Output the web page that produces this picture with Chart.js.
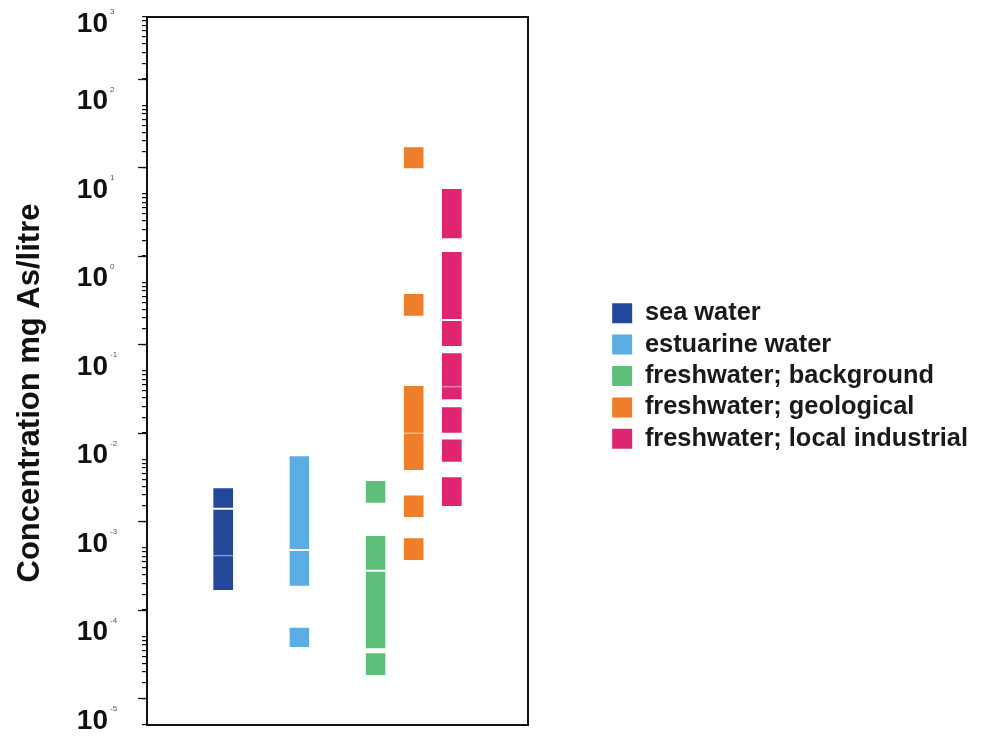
<!DOCTYPE html>
<html>
<head>
<meta charset="utf-8">
<script src="https://cdn.jsdelivr.net/npm/chart.js@4/dist/chart.umd.min.js"></script>
<style>
  html, body { margin: 0; padding: 0; background: #ffffff; }
  #wrap { width: 981px; height: 739px; }
</style>
</head>
<body>
<div id="wrap"><canvas id="chart" width="981" height="739"></canvas></div>
<script>
// Arsenic concentration ranges (mg As/litre) by water type.
// Each range is [low, high]; adjoining ranges are separated by a thin white edge.
const seriesNames = ['sea water', 'estuarine water', 'freshwater; background', 'freshwater; geological', 'freshwater; local industrial'];
const seriesColors = ['#22479b', '#5bade2', '#5ebf78', '#ef7e2b', '#df2471'];
const seriesX = [2, 4, 6, 7, 8];

const seaWater = [[2.77e-3, 4.85e-3], [3.27e-4, 2.77e-3]];
const estuarineWater = [[9.5e-4, 1.12e-2], [3.65e-4, 9.5e-4], [7.4e-5, 1.29e-4]];
const freshBackground = [[3.17e-3, 5.86e-3], [5.52e-4, 1.40e-3], [7.16e-5, 5.52e-4], [3.58e-5, 6.62e-5]];
const freshGeological = [[19.0, 34.6], [0.411, 0.760], [7.41e-3, 6.95e-2], [2.18e-3, 4.02e-3], [7.13e-4, 1.32e-3]];
const freshIndustrial = [[3.08, 11.7], [0.377, 2.27], [0.187, 0.377], [0.0467, 0.163], [0.0196, 0.0399], [9.2e-3, 0.0173], [2.9e-3, 6.46e-3]];

// faint sub-divisions inside a range
const seaWaterFaint = [8.2e-4];
const freshGeologicalFaint = [1.98e-2];
const freshIndustrialFaint = [0.0665];

const seriesRanges = [seaWater, estuarineWater, freshBackground, freshGeological, freshIndustrial];
const seriesFaint = [seaWaterFaint, [], [], freshGeologicalFaint, freshIndustrialFaint];

// log axis: decades 1e-5 .. 1e3, minor ticks at 1..9 x 10^n, long ticks at 2 x 10^n
const decadeExponents = [-5, -4, -3, -2, -1, 0, 1, 2, 3];
const minorMultipliers = [1, 2, 3, 4, 5, 6, 7, 8, 9];
const longTickMultiplier = 2;

const axisTitle = 'Concentration mg As/litre';
const PLOT_RIGHT = 528;
const FONT = '"Liberation Sans", Arial, Helvetica, sans-serif';

const tickValues = [];
decadeExponents.forEach((e, i) => {
  if (i === decadeExponents.length - 1) { tickValues.push(Math.pow(10, e)); return; }
  minorMultipliers.forEach(m => tickValues.push(Number((m * Math.pow(10, e)).toPrecision(3))));
});

const datasets = seriesNames.map((name, i) => ({
  label: name,
  data: seriesRanges[i].map(r => ({ x: seriesX[i], y: r })),
  backgroundColor: seriesColors[i],
  borderColor: '#ffffff',
  borderWidth: { top: 1, bottom: 1, left: 0, right: 0 },
  borderSkipped: false,
  borderRadius: 0,
  inflateAmount: 0,
  barThickness: 20,
  grouped: false,
  faint: seriesFaint[i]
}));

// faint lines, decade labels, long ticks and the rotated axis title
const axisDecor = {
  id: 'axisDecor',
  afterDatasetsDraw(chart) {
    const ctx = chart.ctx;
    const y = chart.scales.y;
    ctx.save();
    chart.data.datasets.forEach((ds, di) => {
      const meta = chart.getDatasetMeta(di);
      const bar = meta.data[0];
      if (!bar) return;
      (ds.faint || []).forEach(v => {
        const py = y.getPixelForValue(v);
        ctx.strokeStyle = 'rgba(255,255,255,0.45)';
        ctx.lineWidth = 1.5;
        ctx.beginPath();
        ctx.moveTo(bar.x - bar.width / 2, py);
        ctx.lineTo(bar.x + bar.width / 2, py);
        ctx.stroke();
      });
    });
    ctx.restore();
  },
  afterDraw(chart) {
    const ctx = chart.ctx;
    const y = chart.scales.y;
    const area = chart.chartArea;
    ctx.save();
    // long ticks
    ctx.strokeStyle = '#111';
    ctx.lineWidth = 1.3;
    decadeExponents.slice(0, -1).forEach(e => {
      const py = Math.round(y.getPixelForValue(longTickMultiplier * Math.pow(10, e))) + 0.5;
      ctx.beginPath();
      ctx.moveTo(area.left - 9, py);
      ctx.lineTo(area.left, py);
      ctx.stroke();
    });
    // decade labels 10^n
    decadeExponents.forEach(e => {
      const py = Math.max(y.getPixelForValue(Math.pow(10, e)) - 4, area.top + 7);
      ctx.fillStyle = '#111';
      ctx.font = 'bold 28px ' + FONT;
      ctx.textAlign = 'right';
      ctx.textBaseline = 'middle';
      ctx.fillText('10', 108, py);
      ctx.fillStyle = '#555';
      ctx.font = '8px ' + FONT;
      ctx.textAlign = 'left';
      ctx.fillText(String(e), 110, py - 12);
    });
    // axis title
    ctx.translate(30, (area.top + area.bottom) / 2 + 22);
    ctx.rotate(-Math.PI / 2);
    ctx.fillStyle = '#111';
    ctx.font = 'bold 31px ' + FONT;
    ctx.textAlign = 'center';
    ctx.textBaseline = 'middle';
    ctx.fillText(axisTitle, 0, 0);
    ctx.restore();
  }
};

const frameBorder = { display: true, color: '#111', width: 2 };

new Chart(document.getElementById('chart'), {
  type: 'bar',
  data: { datasets },
  options: {
    responsive: false,
    animation: false,
    layout: { padding: { left: 0, right: 3, top: 17, bottom: 4 } },
    plugins: {
      tooltip: { enabled: false },
      legend: {
        position: 'right',
        align: 'center',
        maxWidth: 500,
        labels: {
          boxWidth: 20,
          boxHeight: 20,
          padding: 6,
          color: '#1a1a1a',
          font: { family: FONT, size: 25.4, weight: 'bold' },
          generateLabels(chart) {
            return Chart.defaults.plugins.legend.labels.generateLabels(chart)
              .map(l => Object.assign(l, { lineWidth: 0 }));
          }
        }
      }
    },
    scales: {
      x: {
        type: 'linear', position: 'bottom', min: 0, max: 10, offset: false,
        grid: { display: false }, ticks: { display: false }, border: frameBorder,
        afterFit(s) { s.height = 10; }
      },
      x2: {
        type: 'linear', position: 'top', min: 0, max: 10,
        grid: { display: false }, ticks: { display: false }, border: frameBorder,
        afterFit(s) { s.height = 0; }
      },
      y: {
        type: 'logarithmic', position: 'left', min: 1e-5, max: 1e3,
        afterBuildTicks(s) { s.ticks = tickValues.map(v => ({ value: v })); },
        ticks: { display: false },
        grid: { display: true, drawOnChartArea: false, drawTicks: true, tickLength: 5, color: '#111', lineWidth: 1.2 },
        border: frameBorder,
        afterFit(s) { s.width = 147; }
      },
      y2: {
        type: 'linear', position: 'right', min: 0, max: 1,
        grid: { display: false }, ticks: { display: false }, border: frameBorder,
        afterFit(s) {
          const c = s.chart;
          s.width = c.width - c.options.layout.padding.right - c.legend.width - PLOT_RIGHT;
        }
      }
    }
  },
  plugins: [axisDecor]
});
</script>
</body>
</html>
